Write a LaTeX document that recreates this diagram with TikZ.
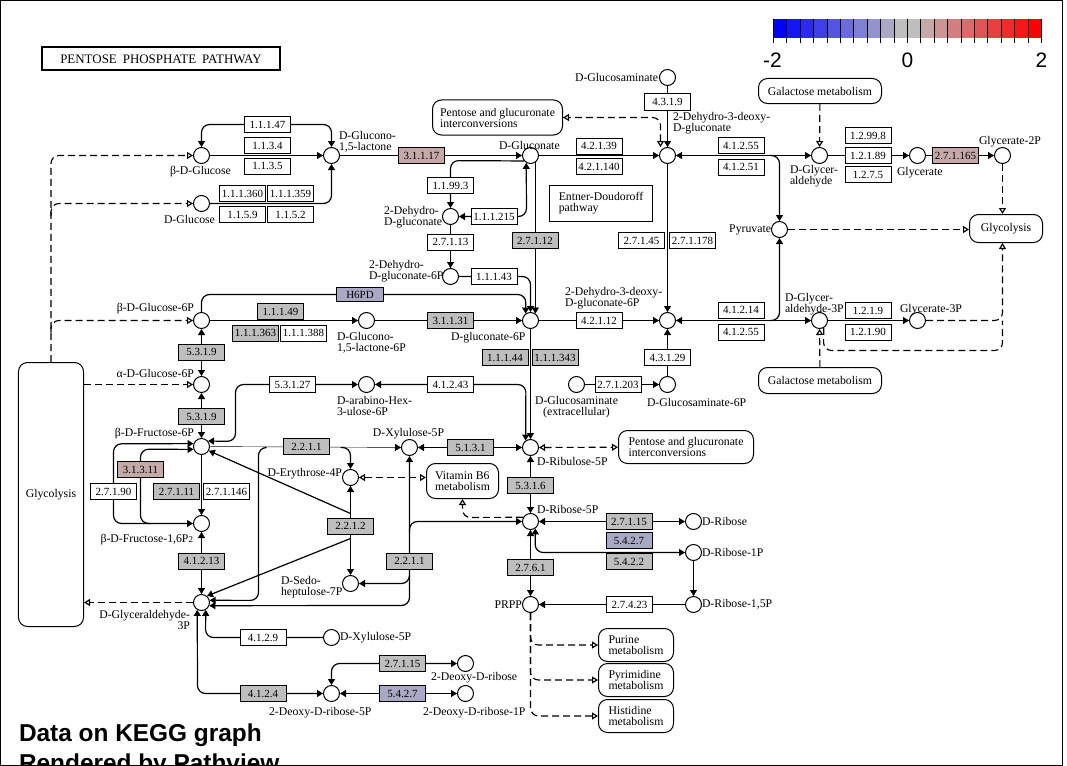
\documentclass[tikz,border=0pt]{standalone}
\usepackage{fontspec}
\setmainfont{Liberation Serif}
\setsansfont{Liberation Sans}
\usetikzlibrary{arrows.meta,positioning,calc,backgrounds}
\definecolor{lowblue}{RGB}{0,0,255}
\definecolor{midgray}{RGB}{190,190,190}
\definecolor{highred}{RGB}{255,0,0}
\colorlet{upred}{highred!11!midgray}
\colorlet{downblue}{lowblue!11!midgray}
\newcommand{\lblfont}{\fontsize{11.8}{11}\selectfont}
\newcommand{\ecfont}{\fontsize{11}{11}\selectfont}

\begin{document}
\begin{tikzpicture}[
        x=1bp, y=-1bp, line width=1bp,
        >={Triangle[length=6bp,width=7bp]},
        cpd/.style={circle, draw, fill=white, minimum size=16bp, inner sep=0pt},
        ec/.style={rectangle, draw, fill=white, minimum width=46bp, minimum height=16bp, inner sep=0pt, font=\ecfont},
        ecgray/.style={ec, fill=midgray},
        ecup/.style={ec, fill=upred},
        ecdown/.style={ec, fill=downblue},
        pathmap/.style={rectangle, rounded corners=9bp, draw, fill=white, align=left, inner sep=0pt, font=\lblfont},
        lbl/.style={inner sep=0pt, font=\lblfont, align=left},
        rxn/.style={rounded corners=8bp, line width=1.2bp},
        dsh/.style={rounded corners=8bp, line width=1.15bp, dash pattern=on 7bp off 4bp, >={Triangle[open,length=6bp,width=7bp]}}
    ]
        \useasboundingbox (0,0) rectangle (1067,766);
        \draw (0.5,0.5) rectangle (1062.5,765.5);

        \begin{scope}[shift={(0.5,0.5)}]
        % Title and colour key
        \node[draw, line width=2bp, minimum width=237bp, minimum height=23bp, inner sep=0pt, font=\fontsize{13}{13}\selectfont] (title) at (160.5,58.5) {PENTOSE\hspace{6pt}PHOSPHATE\hspace{6pt}PATHWAY};
        \foreach \i in {0,...,19} {
            \ifnum\i<10
                \pgfmathtruncatemacro{\p}{round(100*\i/9)}
                \colorlet{segcol}{midgray!\p!lowblue}
            \else
                \pgfmathtruncatemacro{\p}{round(100*(\i-10)/9)}
                \colorlet{segcol}{highred!\p!midgray}
            \fi
            \fill[segcol] (773+13.4*\i,19) rectangle ++(13.4,19);
        }
        \foreach \i in {0,...,20}
            \draw (773+13.4*\i,19) -- ++(0,24);
        \node[font=\sffamily\fontsize{21}{21}\selectfont, inner sep=0pt] (klow) at (772,60) {-2};
        \node[font=\sffamily\fontsize{21}{21}\selectfont, inner sep=0pt] (kmid) at (907,60) {0};
        \node[font=\sffamily\fontsize{21}{21}\selectfont, inner sep=0pt] (khigh) at (1041,60) {2};

        % Compounds
        \node[cpd] (bglc) at (201,155) {};
        \node[cpd] (glc) at (201,203) {};
        \node[cpd] (glcnl) at (331,155) {};
        \node[cpd] (glcn) at (530,155) {};
        \node[cpd] (kdg) at (667,155) {};
        \node[cpd] (glcnm) at (667,77) {};
        \node[cpd] (glyald) at (819,155) {};
        \node[cpd] (glyc) at (917,155) {};
        \node[cpd] (glyc2p) at (1002,155) {};
        \node[cpd] (pyr) at (779,229) {};
        \node[cpd] (dhg) at (450,216) {};
        \node[cpd] (dhg6p) at (450,276) {};
        \node[cpd] (g6p) at (201,320) {};
        \node[cpd] (lac6p) at (366,320) {};
        \node[cpd] (gl6p) at (530,320) {};
        \node[cpd] (kdg6p) at (667,320) {};
        \node[cpd] (gap2) at (819,320) {};
        \node[cpd] (glyc3p) at (917,320) {};
        \node[cpd] (ag6p) at (201,384) {};
        \node[cpd] (hex) at (366,384) {};
        \node[cpd] (glcne) at (576,384) {};
        \node[cpd] (gln6p) at (667,384) {};
        \node[cpd] (f6p) at (201,446) {};
        \node[cpd] (xu5p) at (409,447) {};
        \node[cpd] (ru5p) at (530,447) {};
        \node[cpd] (e4p) at (350,477) {};
        \node[cpd] (r5p) at (530,521) {};
        \node[cpd] (rib) at (693,521) {};
        \node[cpd] (fbp) at (201,523) {};
        \node[cpd] (r1p) at (693,552) {};
        \node[cpd] (s7p) at (350,583) {};
        \node[cpd] (gap) at (201,602) {};
        \node[cpd] (prpp) at (530,604) {};
        \node[cpd] (r15p) at (693,604) {};
        \node[cpd] (xu5pb) at (331,637) {};
        \node[cpd] (dr) at (465,663) {};
        \node[cpd] (dr5p) at (331,693) {};
        \node[cpd] (dr1p) at (465,693) {};

        % Compound names
        \node[lbl, anchor=west] (tbglc) at (169,171) {β-D-Glucose};
        \node[lbl, anchor=west] (tglc) at (163,219) {D-Glucose};
        \node[lbl, anchor=west] (tglcnl) at (338,141) {D-Glucono-\\1,5-lactone};
        \node[lbl, anchor=west] (tglcn) at (498,145) {D-Gluconate};
        \node[lbl, anchor=west] (tkdg) at (672,123) {2-Dehydro-3-deoxy-\\D-gluconate};
        \node[lbl, anchor=east] (tglcnm) at (658,77) {D-Glucosaminate};
        \node[lbl, anchor=west] (tglyald) at (789,176) {D-Glycer-\\aldehyde};
        \node[lbl, anchor=west] (tglyc) at (896,172) {Glycerate};
        \node[lbl, anchor=west] (tglyc2p) at (978,141) {Glycerate-2P};
        \node[lbl, anchor=east] (tpyr) at (771,229) {Pyruvate};
        \node[lbl, anchor=west] (tdhg) at (383,217) {2-Dehydro-\\D-gluconate};
        \node[lbl, anchor=west] (tdhg6p) at (368,271) {2-Dehydro-\\D-gluconate-6P};
        \node[lbl, anchor=east] (tg6p) at (194,308) {β-D-Glucose-6P};
        \node[lbl, anchor=west] (tlac6p) at (336,342) {D-Glucono-\\1,5-lactone-6P};
        \node[lbl, anchor=west] (tgl6p) at (450,337) {D-gluconate-6P};
        \node[lbl, anchor=west] (tkdg6p) at (564,298) {2-Dehydro-3-deoxy-\\D-gluconate-6P};
        \node[lbl, anchor=west] (tgap2) at (784,304) {D-Glycer-\\aldehyde-3P};
        \node[lbl, anchor=west] (tglyc3p) at (899,309) {Glycerate-3P};
        \node[lbl, anchor=east] (tag6p) at (194,373) {α-D-Glucose-6P};
        \node[lbl, anchor=west] (thex) at (336,405) {D-arabino-Hex-\\3-ulose-6P};
        \node[lbl, align=center] (tglcne) at (576,407) {D-Glucosaminate\\(extracellular)};
        \node[lbl, anchor=west] (tgln6p) at (646,402) {D-Glucosaminate-6P};
        \node[lbl, anchor=east] (tf6p) at (194,433) {β-D-Fructose-6P};
        \node[lbl] (txu5p) at (408,433) {D-Xylulose-5P};
        \node[lbl, anchor=west] (tru5p) at (536,461) {D-Ribulose-5P};
        \node[lbl, anchor=east] (te4p) at (342,473) {D-Erythrose-4P};
        \node[lbl, anchor=west] (tr5p) at (536,509) {D-Ribose-5P};
        \node[lbl, anchor=west] (trib) at (701,521) {D-Ribose};
        \node[lbl, anchor=east] (tfbp) at (193,539) {β-D-Fructose-1,6P{\fontsize{9}{9}\selectfont 2}};
        \node[lbl, anchor=west] (tr1p) at (701,552) {D-Ribose-1P};
        \node[lbl, anchor=west] (ts7p) at (280,587) {D-Sedo-\\heptulose-7P};
        \node[lbl, anchor=east, align=right] (tgap) at (190,619) {D-Glyceraldehyde-\\3P};
        \node[lbl, anchor=east] (tprpp) at (522,604) {PRPP};
        \node[lbl, anchor=west] (tr15p) at (701,604) {D-Ribose-1,5P};
        \node[lbl, anchor=west] (txu5pb) at (339,637) {D-Xylulose-5P};
        \node[lbl, anchor=west] (tdr) at (430,677) {2-Deoxy-D-ribose};
        \node[lbl, anchor=west] (tdr5p) at (268,712) {2-Deoxy-D-ribose-5P};
        \node[lbl, anchor=west] (tdr1p) at (422,712) {2-Deoxy-D-ribose-1P};

        % Linked maps
        \node[pathmap, minimum width=130bp, minimum height=35bp] (ptop) at (497,117) {Pentose and glucuronate\\interconversions};
        \node[pathmap, minimum width=123bp, minimum height=25bp] (galtop) at (819.5,90.5) {Galactose metabolism};
        \node[pathmap, minimum width=73bp, minimum height=28bp] (glycR) at (1005.5,228) {Glycolysis};
        \node[pathmap, minimum width=123bp, minimum height=26bp] (galbot) at (819.5,380) {Galactose metabolism};
        \node[pathmap, minimum width=135bp, minimum height=33bp] (pmid) at (685.5,446.5) {Pentose and glucuronate\\interconversions};
        \node[pathmap, minimum width=72bp, minimum height=35bp] (vb6) at (462,480.5) {Vitamin B6\\metabolism};
        \node[pathmap, minimum width=75bp, minimum height=33bp] (pur) at (635.5,644.5) {Purine\\metabolism};
        \node[pathmap, minimum width=75bp, minimum height=33bp] (pyrim) at (635.5,679.5) {Pyrimidine\\metabolism};
        \node[pathmap, minimum width=75bp, minimum height=33bp] (his) at (635.5,715.5) {Histidine\\metabolism};
        \node[pathmap, minimum width=65bp, minimum height=264bp] (glycL) at (50.5,494) {Glycolysis};
        \node[draw, fill=white, align=left, font=\lblfont, minimum width=103bp, minimum height=36bp, inner sep=0pt] (ed) at (600.5,203) {Entner-Doudoroff\\pathway};

        % Enzymes
        \node[ec] (e11147) at (267,124) {1.1.1.47};
        \node[ec] (e1134) at (267,145) {1.1.3.4};
        \node[ec] (e1135) at (267,165.5) {1.1.3.5};
        \node[ec] (e111360) at (242,193) {1.1.1.360};
        \node[ec] (e111359) at (290,193) {1.1.1.359};
        \node[ec] (e1159) at (242,214) {1.1.5.9};
        \node[ec] (e1152) at (290,214) {1.1.5.2};
        \node[ecup] (e31117) at (421,155) {3.1.1.17};
        \node[ec] (e11993) at (450,185) {1.1.99.3};
        \node[ec] (e111215) at (493.5,216) {1.1.1.215};
        \node[ec] (e27113) at (450,241.5) {2.7.1.13};
        \node[ecgray] (e27112) at (534.5,240) {2.7.1.12};
        \node[ec] (e42139) at (598.5,145.5) {4.2.1.39};
        \node[ec] (e421140) at (598.5,166) {4.2.1.140};
        \node[ec] (e4319) at (667,101.5) {4.3.1.9};
        \node[ec] (e27145) at (641,240) {2.7.1.45};
        \node[ec] (e271178) at (692,240) {2.7.1.178};
        \node[ec] (e41255a) at (740.5,145) {4.1.2.55};
        \node[ec] (e41251) at (740.5,166.5) {4.1.2.51};
        \node[ec] (e12998) at (867.5,135) {1.2.99.8};
        \node[ec] (e12189) at (867.5,155) {1.2.1.89};
        \node[ec] (e1275) at (867.5,174) {1.2.7.5};
        \node[ecup] (e271165) at (955,155) {2.7.1.165};
        \node[ec] (e11143) at (493.5,276) {1.1.1.43};
        \node[ecdown, minimum width=47bp, minimum height=14bp] (h6pd) at (359.5,294) {H6PD};
        \node[ecgray] (e11149) at (280,311) {1.1.1.49};
        \node[ecgray] (e111363) at (255,332.5) {1.1.1.363};
        \node[ec] (e111388) at (303,332.5) {1.1.1.388};
        \node[ecgray] (e31131) at (450,320) {3.1.1.31};
        \node[ec] (e42112) at (598.5,320) {4.2.1.12};
        \node[ec] (e41214) at (740.5,309.5) {4.1.2.14};
        \node[ec] (e41255b) at (740.5,331.5) {4.1.2.55};
        \node[ec] (e1219) at (867.5,310) {1.2.1.9};
        \node[ec] (e12190) at (867.5,331.5) {1.2.1.90};
        \node[ecgray] (e5319a) at (201,351.5) {5.3.1.9};
        \node[ecgray] (e11144) at (504.5,357) {1.1.1.44};
        \node[ecgray] (e111343) at (554.5,357) {1.1.1.343};
        \node[ec] (e43129) at (667,357) {4.3.1.29};
        \node[ec] (e53127) at (292,384) {5.3.1.27};
        \node[ec] (e41243) at (450,384) {4.1.2.43};
        \node[ec] (e271203) at (617.5,384) {2.7.1.203};
        \node[ecgray] (e5319b) at (201,416) {5.3.1.9};
        \node[ecgray] (e2211a) at (306,446) {2.2.1.1};
        \node[ecgray] (e5131) at (470,447) {5.1.3.1};
        \node[ecup] (e31311) at (140,469) {3.1.3.11};
        \node[ecgray] (e5316) at (530,485) {5.3.1.6};
        \node[ec] (e27190) at (113,491) {2.7.1.90};
        \node[ecgray] (e27111) at (176,491) {2.7.1.11};
        \node[ec] (e271146) at (226,491) {2.7.1.146};
        \node[ecgray] (e27115a) at (628.5,521) {2.7.1.15};
        \node[ecgray] (e2212) at (350,525.5) {2.2.1.2};
        \node[ecdown] (e5427a) at (628.5,540) {5.4.2.7};
        \node[ecgray] (e41213) at (201,560.5) {4.1.2.13};
        \node[ecgray] (e2211b) at (409,560.5) {2.2.1.1};
        \node[ecgray] (e5422) at (628.5,561) {5.4.2.2};
        \node[ecgray] (e2761) at (530,567) {2.7.6.1};
        \node[ec] (e27423) at (629,604) {2.7.4.23};
        \node[ec] (e4129) at (262.5,637) {4.1.2.9};
        \node[ecgray] (e27115b) at (402,663) {2.7.1.15};
        \node[ecgray] (e4124) at (262.5,693) {4.1.2.4};
        \node[ecdown] (e5427b) at (402,693) {5.4.2.7};

        % Reactions
        \begin{scope}[on background layer]
            % glucose to gluconate
            \draw[->] (bglc) -- (glcnl);
            \draw[<->, rxn] (bglc) -- (201,124) -- (331,124) -- (glcnl);
            \draw[->, rxn] (glc) -- (331,203) -- (glcnl);
            \draw[->] (glcnl) -- (glcn);
            \draw[->] (glcn) -- (kdg);
            \draw[->] (glcnm) -- (kdg);
            \draw[<->, dsh] ([xshift=-7bp]kdg.north) -- (660,117) -- (ptop);
            \draw[<->] (kdg) -- (glyald);
            \draw[->, rxn] (769,155) -- (779,155) -- (pyr);
            \draw[->, dsh] (galtop) -- (glyald);
            \draw[->] (glyald) -- (glyc);
            \draw[->] (glyc) -- (glyc2p);
            \draw[->, dsh] (glyc2p) -- (glyc2p |- glycR.north);
            \draw[->, dsh] (pyr) -- (pyr -| glycR.west);
            \draw[->, rxn] (769,320) -- (779,320) -- (pyr);
            % 2-dehydro-gluconate branch
            \draw[->, rxn] (glcn.220) -- (450,160.1) -- (dhg);
            \draw[<->, rxn] (dhg) -- (526,216) -- (glcn.-120);
            \draw[->] (dhg) -- (dhg6p);
            \draw[->, rxn] (dhg6p) -- (530,276) -- (gl6p);
            \draw[->] (glcn.-55) -- (gl6p.55);
            % oxidative branch
            \draw[->, rxn] (g6p) -- (201,294) -- (525.4,294) -- (gl6p.125);
            \draw[->] (g6p) -- (lac6p);
            \draw[->] (lac6p) -- (gl6p);
            \draw[->] (gl6p) -- (kdg6p);
            \draw[->] (kdg) -- (kdg6p);
            \draw[<->] (kdg6p) -- (gap2);
            \draw[->] (gln6p) -- (kdg6p);
            \draw[->] (glcne) -- (gln6p);
            \draw[->] (gap2) -- (glyc3p);
            \draw[->, dsh] (galbot) -- (gap2);
            \draw[->, dsh] (glyc3p) -- (1002,320) -- (glyc2p |- glycR.south);
            \draw[dsh] (gap2.-60) -- (823,350) -- (1002,350) -- (1002,320);
            % hexose phosphates
            \draw[<->] (g6p) -- (ag6p);
            \draw[<->] (ag6p) -- (f6p);
            \draw[<->, rxn] (f6p.40) -- (235,440.9) -- (235,384) -- (hex);
            \draw[<->, rxn] (hex) -- (525.4,384) -- (ru5p.125);
            \draw[->] (gl6p) -- (ru5p);
            \draw[<->] (ru5p) -- (xu5p);
            \draw[<->, dsh] (ru5p) -- (pmid);
            \draw[<->] (ru5p) -- (r5p);
            % transketolase and transaldolase
            \draw[->] (f6p) -- (xu5p);
            \draw[->, rxn] (340,447) -- (350,447) -- (e4p);
            \draw[->, rxn] (266,447) -- (258,447) -- (258,599.9) -- (gap.15);
            \draw[<->, rxn] (xu5p) -- (409,605) -- (gap.-22);
            \draw[->, rxn] (409,530) -- (409,521) -- (r5p);
            \draw[->, rxn] (409,575) -- (409,583) -- (s7p);
            \draw[<->, dsh] (e4p) -- (e4p -| vb6.west);
            \draw[->, dsh] (r5p.150) -- (462,517) -- (vb6);
            \draw[<->] (e4p) -- (s7p);
            \draw[->, rxn] (350,513) -- (f6p.-30);
            \draw[->, rxn] (350,538) -- (gap.50);
            % glycolysis side
            \draw[->] (f6p) -- (fbp);
            \draw[<->, rxn] (f6p.160) -- (113,443.3) -- (113,523) -- (fbp);
            \draw[->, rxn] (150,523) -- (140,523) -- (140,448.7) -- (f6p.200);
            \draw[<->] (fbp) -- (gap);
            \draw[->, dsh] (gap) -- (gap -| glycL.east);
            \draw[->, dsh] (glycL.north) -- (glycL.north |- bglc) -- (bglc);
            \draw[->, dsh] (50.5,215) -- (50.5,203) -- (glc);
            \draw[->, dsh] (50.5,332) -- (50.5,320) -- (g6p);
            \draw[->, dsh] (ag6p -| glycL.east) -- (ag6p);
            % deoxyribose
            \draw[->, rxn] (xu5pb) -- (205,637) -- (gap.-60);
            \draw[<->, rxn] (gap.-120) -- (197,693) -- (dr5p);
            \draw[<->, rxn] (dr5p) -- (331,663) -- (dr);
            \draw[<->] (dr5p) -- (dr1p);
            % ribose
            \draw[<->] (r5p) -- (rib);
            \draw[<->, rxn] (r5p.-55) -- (534.6,552) -- (r1p);
            \draw[->] (r1p) -- (r15p);
            \draw[->] (r15p) -- (prpp);
            \draw[<->] (r5p) -- (prpp);
            \draw[->, dsh] (prpp) -- (530,644.5) -- (pur);
            \draw[->, dsh] (prpp) -- (530,679.5) -- (pyrim);
            \draw[->, dsh] (prpp) -- (530,715.5) -- (his);
        \end{scope}

        % Caption
        \begin{scope}
            \clip (0,0) rectangle (1062,765);
            \node[anchor=base west, inner sep=0pt, font=\sffamily\bfseries\fontsize{24.5}{26}\selectfont] (cap1) at (18,741) {Data on KEGG graph};
            \node[anchor=base west, inner sep=0pt, font=\sffamily\bfseries\fontsize{24.5}{26}\selectfont] (cap2) at (18,771) {Rendered by Pathview};
        \end{scope}
        \end{scope}
    \end{tikzpicture}
\end{document}
